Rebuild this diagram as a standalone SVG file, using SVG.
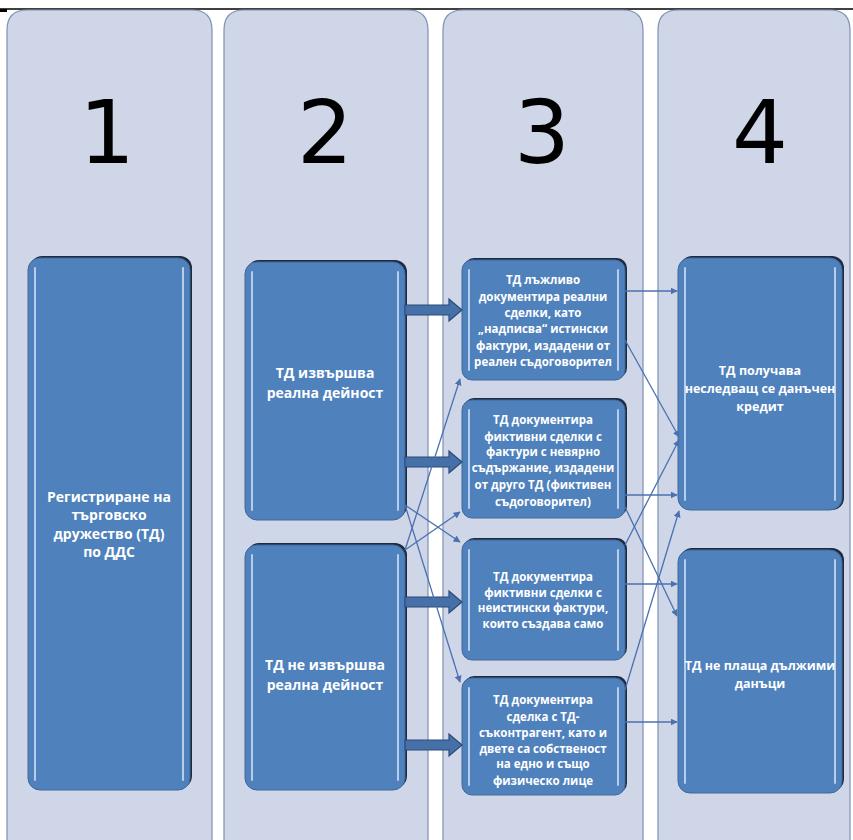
<svg xmlns="http://www.w3.org/2000/svg" width="853" height="840" viewBox="0 0 853 840">
<style>
.panel{fill:#cfd6e7;stroke:#7d90b3;stroke-width:1.2}
.num{font-family:"DejaVu Sans",sans-serif;font-size:88px;fill:#000;text-anchor:middle}
.shadow{fill:#1d2b42}
.box{fill:#4f81bd;stroke:#41689a;stroke-width:1}
.hl{stroke:#b7cdec;stroke-width:2;stroke-linecap:round}
.t{font-family:"Open Sans","Noto Sans",sans-serif;font-weight:bold;fill:#fff;text-anchor:middle}
.t3{font-size:11.5px}
.t1{font-size:14px}
.t4{font-size:12.5px}
.thin{stroke:#4a72b0;stroke-width:1.3;fill:none;marker-end:url(#ah)}
.blk{fill:#4670a8;stroke:#2c4b78;stroke-width:1.2}
</style>
<defs>
<marker id="ah" viewBox="0 0 10 10" refX="9" refY="5" markerWidth="7" markerHeight="7" markerUnits="userSpaceOnUse" orient="auto">
<path d="M0,0 L10,5 L0,10 z" fill="#4a72b0"/>
</marker>
<path id="blkarrow" d="M0,-5 H44 V-11 L57,0 L44,11 V5 H0 Z"/>
</defs>
<rect width="853" height="840" fill="#fff"/>
<line x1="0" y1="9" x2="853" y2="9" stroke="#000" stroke-width="1.5"/>
<rect x="0" y="9" width="7" height="3" fill="#000"/>

<g id="panels">
<path class="panel" d="M7,845 V30 Q7,10 27,10 H192 Q212,10 212,30 V845"/>
<path class="panel" d="M224,845 V30 Q224,10 244,10 H408 Q428,10 428,30 V845"/>
<path class="panel" d="M443,845 V30 Q443,10 463,10 H623 Q643,10 643,30 V845"/>
<path class="panel" d="M658,845 V30 Q658,10 678,10 H830 Q850,10 850,30 V845"/>
<text class="num" x="107" y="163">1</text>
<text class="num" x="325" y="163">2</text>
<text class="num" x="542" y="163">3</text>
<text class="num" x="760" y="163">4</text>
</g>

<g id="n1">
<rect class="shadow" x="30" y="256" width="162" height="532" rx="12"/>
<rect class="box" x="28" y="258" width="162" height="532" rx="12"/>
<line class="hl" x1="35" y1="268" x2="35" y2="780"/><line class="hl" x1="183" y1="268" x2="183" y2="780"/>
<text class="t t1" x="109" y="502">Регистриране на</text>
<text class="t t1" x="109" y="520">търговско</text>
<text class="t t1" x="109" y="539">дружество (ТД)</text>
<text class="t t1" x="109" y="557">по ДДС</text>
</g>

<g id="n2a">
<rect class="shadow" x="247" y="260" width="160" height="258" rx="12"/>
<rect class="box" x="245" y="262" width="160" height="258" rx="12"/>
<line class="hl" x1="252" y1="272" x2="252" y2="510"/><line class="hl" x1="398" y1="272" x2="398" y2="510"/>
<text class="t t1" x="325" y="378">ТД извършва</text>
<text class="t t1" x="325" y="398">реална дейност</text>
</g>

<g id="n2b">
<rect class="shadow" x="247" y="543" width="160" height="245" rx="12"/>
<rect class="box" x="245" y="545" width="160" height="245" rx="12"/>
<line class="hl" x1="252" y1="555" x2="252" y2="780"/><line class="hl" x1="398" y1="555" x2="398" y2="780"/>
<text class="t t1" x="325" y="670">ТД не извършва</text>
<text class="t t1" x="325" y="690">реална дейност</text>
</g>

<g id="n3a">
<rect class="shadow" x="464" y="258" width="163" height="120" rx="10"/>
<rect class="box" x="462" y="260" width="163" height="120" rx="10"/>
<line class="hl" x1="469" y1="270" x2="469" y2="370"/><line class="hl" x1="618" y1="270" x2="618" y2="370"/>
<text class="t t3" x="543" y="284">ТД лъжливо</text>
<text class="t t3" x="543" y="301">документира реални</text>
<text class="t t3" x="543" y="317">сделки, като</text>
<text class="t t3" x="543" y="333">„надписва“ истински</text>
<text class="t t3" x="543" y="350">фактури, издадени от</text>
<text class="t t3" x="543" y="366">реален съдоговорител</text>
</g>

<g id="n3b">
<rect class="shadow" x="464" y="398" width="163" height="118" rx="10"/>
<rect class="box" x="462" y="400" width="163" height="118" rx="10"/>
<line class="hl" x1="469" y1="410" x2="469" y2="508"/><line class="hl" x1="618" y1="410" x2="618" y2="508"/>
<text class="t t3" x="543" y="424">ТД документира</text>
<text class="t t3" x="543" y="441">фиктивни сделки с</text>
<text class="t t3" x="543" y="456">фактури с невярно</text>
<text class="t t3" x="543" y="472">съдържание, издадени</text>
<text class="t t3" x="543" y="489">от друго ТД (фиктивен</text>
<text class="t t3" x="543" y="506">съдоговорител)</text>
</g>

<g id="n3c">
<rect class="shadow" x="464" y="538" width="163" height="120" rx="10"/>
<rect class="box" x="462" y="540" width="163" height="120" rx="10"/>
<line class="hl" x1="469" y1="550" x2="469" y2="650"/><line class="hl" x1="618" y1="550" x2="618" y2="650"/>
<text class="t t3" x="543" y="581">ТД документира</text>
<text class="t t3" x="543" y="597">фиктивни сделки с</text>
<text class="t t3" x="543" y="612">неистински фактури,</text>
<text class="t t3" x="543" y="628">които създава само</text>
</g>

<g id="n3d">
<rect class="shadow" x="464" y="676" width="163" height="117" rx="10"/>
<rect class="box" x="462" y="678" width="163" height="117" rx="10"/>
<line class="hl" x1="469" y1="688" x2="469" y2="785"/><line class="hl" x1="618" y1="688" x2="618" y2="785"/>
<text class="t t3" x="543" y="704">ТД документира</text>
<text class="t t3" x="543" y="721">сделка с ТД-</text>
<text class="t t3" x="543" y="737">съконтрагент, като и</text>
<text class="t t3" x="543" y="753">двете са собственост</text>
<text class="t t3" x="543" y="768">на едно и също</text>
<text class="t t3" x="543" y="785">физическо лице</text>
</g>

<g id="n4a">
<rect class="shadow" x="680" y="256" width="164" height="254" rx="12"/>
<rect class="box" x="678" y="258" width="164" height="252" rx="12"/>
<line class="hl" x1="685" y1="268" x2="685" y2="500"/><line class="hl" x1="835" y1="268" x2="835" y2="500"/>
<text class="t t4" x="760" y="375">ТД получава</text>
<text class="t t4" x="760" y="393">неследващ се данъчен</text>
<text class="t t4" x="760" y="411">кредит</text>
</g>

<g id="n4b">
<rect class="shadow" x="680" y="548" width="164" height="243" rx="12"/>
<rect class="box" x="678" y="550" width="164" height="243" rx="12"/>
<line class="hl" x1="685" y1="560" x2="685" y2="783"/><line class="hl" x1="835" y1="560" x2="835" y2="783"/>
<text class="t t4" x="760" y="670">ТД не плаща дължими</text>
<text class="t t4" x="760" y="688">данъци</text>
</g>

<g id="connectors">
<use href="#blkarrow" class="blk" transform="translate(405,310)"/>
<use href="#blkarrow" class="blk" transform="translate(405,462)"/>
<use href="#blkarrow" class="blk" transform="translate(405,602)"/>
<use href="#blkarrow" class="blk" transform="translate(405,745)"/>
<line class="thin" x1="405" y1="550" x2="460" y2="379"/>
<line class="thin" x1="405" y1="550" x2="460" y2="512"/>
<line class="thin" x1="405" y1="505" x2="460" y2="542"/>
<line class="thin" x1="405" y1="505" x2="460" y2="682"/>
<line class="thin" x1="625" y1="291" x2="677" y2="291"/>
<line class="thin" x1="625" y1="340" x2="679" y2="437"/>
<line class="thin" x1="625" y1="545" x2="679" y2="440"/>
<line class="thin" x1="625" y1="495" x2="677" y2="495"/>
<line class="thin" x1="625" y1="507" x2="677" y2="616"/>
<line class="thin" x1="625" y1="584" x2="677" y2="584"/>
<line class="thin" x1="625" y1="690" x2="679" y2="511"/>
<line class="thin" x1="625" y1="722" x2="677" y2="722"/>
</g>
</svg>
